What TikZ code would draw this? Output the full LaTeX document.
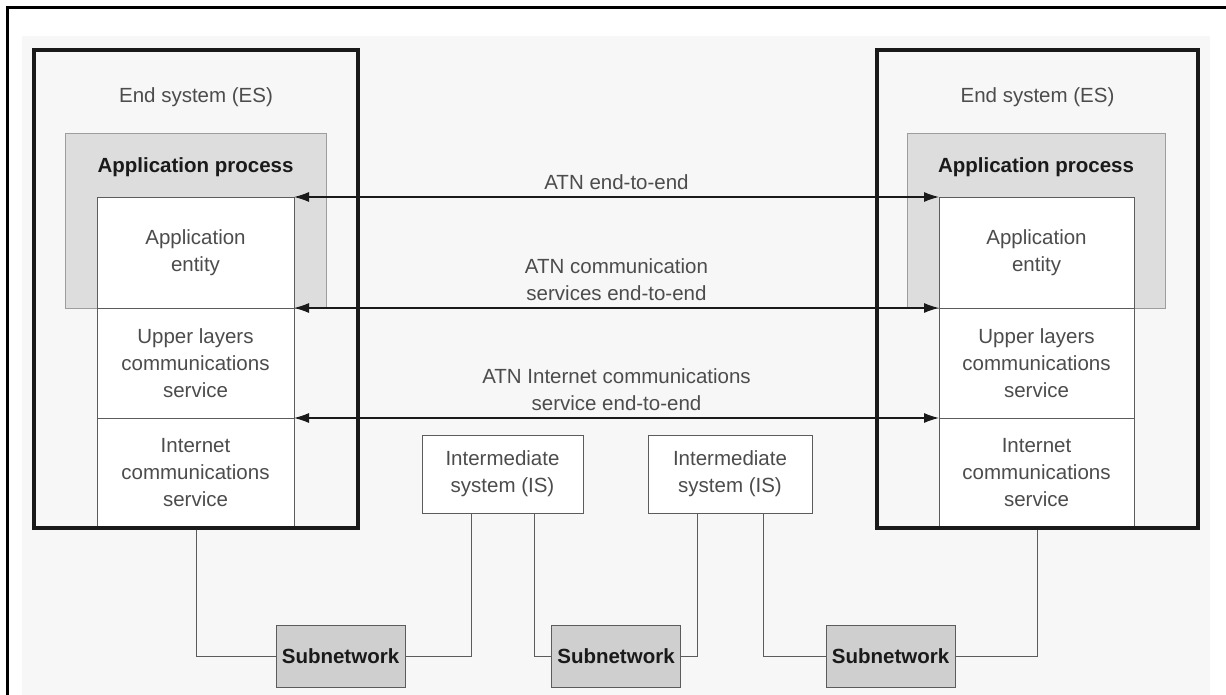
\documentclass[tikz,border=0pt]{standalone}
\usepackage{fontspec}
\setmainfont{Liberation Sans}
\usetikzlibrary{arrows.meta,positioning,calc}
\definecolor{ink}{HTML}{1A1A1A}
\definecolor{rule}{HTML}{5C5C5C}
\definecolor{txt}{HTML}{4C4C4C}
\definecolor{shade}{HTML}{DDDDDD}
\definecolor{netfill}{HTML}{CFCFCF}
\definecolor{paper}{HTML}{F7F7F7}

\tikzset{
  plain/.style={inner sep=0pt,align=center,text=txt},
  heading/.style={inner sep=0pt,text=ink,font=\fontsize{20.5}{27}\selectfont\bfseries},
  esbox/.style={draw=ink,line width=3.4pt,minimum height=478pt,inner sep=0pt},
  procbox/.style={draw=rule!60,fill=shade,line width=0.8pt,minimum height=175pt},
  layer/.style={draw=rule,line width=0.9pt,fill=white,minimum height=110pt,
                outer sep=0pt,align=center,text=txt},
  isbox/.style={draw=rule,line width=0.9pt,fill=white,minimum height=78pt,
                align=center,text=txt},
  netbox/.style={draw=rule,line width=0.9pt,fill=netfill,minimum width=129pt,
                 minimum height=62pt,text=ink,font=\fontsize{20.5}{27}\selectfont\bfseries},
  wire/.style={draw=rule,line width=1pt},
  link/.style={<->,draw=ink,line width=1.1pt}
}

\begin{document}
\begin{tikzpicture}[x=1pt,y=-1pt,font=\fontsize{20.5}{27}\selectfont,
                    >={Latex[length=15pt,width=10pt]}]
  \useasboundingbox (0,0) rectangle (1226,695);
  \fill[paper] (22,36) rectangle (1210,695);
  \draw[line width=3pt,draw=black] (7.5,720) -- (7.5,7.5) -- (1240,7.5);

  % left: end system
  \node[procbox,minimum width=261pt] (apL) at (195.5,220.5) {};
  \node[heading] (apLlab) at (195.5,167) {Application process};
  \node[layer,minimum width=197pt,minimum height=111pt] (aeL) at (195.5,252.5) {Application\\entity};
  \node[layer,minimum width=197pt,below=0pt of aeL] (ulL) {Upper layers\\communications\\service};
  \node[layer,minimum width=197pt,below=0pt of ulL] (icL) {Internet\\communications\\service};
  \node[esbox,minimum width=324pt] (esL) at (196,289) {};
  \node[plain] (esLlab) at (196,97) {End system (ES)};

  % right: end system
  \node[procbox,minimum width=258pt] (apR) at (1036,220.5) {};
  \node[heading] (apRlab) at (1036,167) {Application process};
  \node[layer,minimum width=195pt,minimum height=111pt] (aeR) at (1036.5,252.5) {Application\\entity};
  \node[layer,minimum width=195pt,below=0pt of aeR] (ulR) {Upper layers\\communications\\service};
  \node[layer,minimum width=195pt,below=0pt of ulR] (icR) {Internet\\communications\\service};
  \node[esbox,minimum width=321pt] (esR) at (1037.5,289) {};
  \node[plain] (esRlab) at (1037.5,97) {End system (ES)};

  % peer relations
  \draw[link] (aeL.north east) -- (aeR.north west)
    node[midway,above=7pt,plain] {ATN end-to-end};
  \draw[link] (ulL.north east) -- (ulR.north west)
    node[midway,above=7pt,plain] {ATN communication\\services end-to-end};
  \draw[link] (icL.north east) -- (icR.north west)
    node[midway,above=7pt,plain] {ATN Internet communications\\service end-to-end};

  % intermediate systems and subnetworks
  \node[isbox,minimum width=161pt] (is1) at (502.5,474) {Intermediate\\system (IS)};
  \node[isbox,minimum width=164pt] (is2) at (730,474) {Intermediate\\system (IS)};
  \node[netbox] (sn1) at (340.5,656) {Subnetwork};
  \node[netbox] (sn2) at (616,656) {Subnetwork};
  \node[netbox] (sn3) at (890.5,656) {Subnetwork};

  \draw[wire] (esL.south) |- (sn1.west);
  \draw[wire] (sn1.east) -| ([xshift=-31.5pt]is1.south);
  \draw[wire] ([xshift=31.5pt]is1.south) |- (sn2.west);
  \draw[wire] (sn2.east) -| ([xshift=-33pt]is2.south);
  \draw[wire] ([xshift=33pt]is2.south) |- (sn3.west);
  \draw[wire] (sn3.east) -| (esR.south);
\end{tikzpicture}
\end{document}
